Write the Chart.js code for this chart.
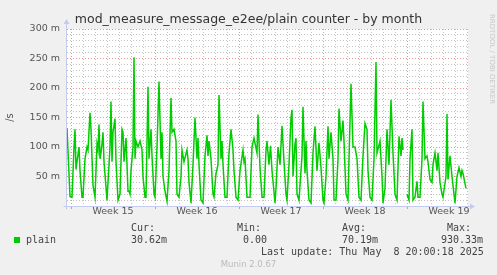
<!DOCTYPE html>
<html>
<head>
<meta charset="utf-8">
<script src="https://cdn.jsdelivr.net/npm/chart.js@4.4.0/dist/chart.umd.min.js"></script>
<style>
  body { margin: 0; background: #f0f0f0; }
  #wrap { position: relative; width: 497px; height: 275px; overflow: hidden; }
  canvas { position: absolute; left: 0; top: 0; }
  .t { position: absolute; white-space: pre; color: #444; }
  .mono { font-family: 'DejaVu Sans Mono', monospace; font-size: 10px; line-height: 12px; }
  #title { left: 0; width: 497px; top: 12px; text-align: center; font-family: 'DejaVu Sans', sans-serif; font-size: 12.5px; line-height: 14px; color: #333; }
  #rrd { left: 484px; top: 14px; transform-origin: 0 0; transform: translate(12px, 0) rotate(90deg); font-family: 'DejaVu Sans', sans-serif; font-size: 7px; line-height: 8px; color: #c8c8c8; }
  #munin { left: 0; width: 497px; top: 259px; text-align: center; font-family: 'DejaVu Sans', sans-serif; font-size: 8.5px; line-height: 10px; color: #bbb; }
  #swatch { position: absolute; left: 14px; top: 237px; width: 6px; height: 6px; background: #00cc00; }
</style>
</head>
<body>
<div id="wrap">
  <canvas id="c" width="497" height="275"></canvas>
  <div class="t" id="title">mod_measure_message_e2ee/plain counter - by month</div>
  <div class="t" id="rrd">RRDTOOL / TOBI OETIKER</div>
  <div id="swatch"></div>
  <div class="t mono" style="left:26px; top:234px">plain</div>
  <div class="t mono" style="left:131px; top:222px">Cur:</div>
  <div class="t mono" style="left:237px; top:222px">Min:</div>
  <div class="t mono" style="left:342px; top:222px">Avg:</div>
  <div class="t mono" style="left:447px; top:222px">Max:</div>
  <div class="t mono" style="left:131px; top:234px">30.62m</div>
  <div class="t mono" style="left:243px; top:234px">0.00</div>
  <div class="t mono" style="left:342px; top:234px">70.19m</div>
  <div class="t mono" style="left:441px; top:234px">930.33m</div>
  <div class="t mono" style="left:261px; top:246px">Last update: Thu May  8 20:00:18 2025</div>
  <div class="t" id="munin">Munin 2.0.67</div>
</div>
<script>
// hours since Mon 7 Apr 2025 00:00
const hours = [
  -8, -2, 2, 6, 8, 10, 12, 16, 18, 22, 24, 28,
  32, 34, 38, 40, 44, 48, 52, 54, 56, 58, 60, 62,
  64, 66, 72, 78, 80, 82, 84, 88, 90, 94, 98, 102,
  104, 106, 108, 110, 114, 116, 118, 120, 124, 126, 128, 130,
  134, 138, 142, 144, 148, 150, 154, 156, 160, 162, 166, 168,
  172, 176, 180, 182, 184, 188, 192, 196, 200, 202, 206, 210,
  212, 216, 220, 222, 226, 232, 234, 236, 240, 244, 248, 252,
  254, 256, 260, 264, 268, 272, 274, 276, 280, 284, 286, 290,
  294, 296, 300, 302, 304, 308, 312, 316, 320, 324, 326, 330,
  334, 338, 344, 346, 348, 352, 358, 362, 366, 372, 374, 378,
  382, 386, 390, 392, 396, 399, 402, 408, 410, 414, 418, 422,
  426, 430, 432, 436, 440, 442, 444, 448, 450, 452, 456, 462,
  464, 468, 470, 472, 476, 480, 484, 488, 492, 496, 500, 504,
  506, 510, 514, 516, 520, 524, 526, 530, 534, 536, 540, 544,
  546, 550, 554, 556, 560, 564, 568, 572, 576, 580, 584, 588,
  592, 594, 598, 602, 606, 610, 612, 618, 622, 624, 628, 632,
  636, 640, 644, 648, 652, 656, 660, 662, 664, 668, 672, 676,
  678, 682, 684, 688, 692, 694, 698, 702, 704, 708, 712, 714,
  718, 722, 724, 728, 732, 734, 738, 742, 744, 750, 752, 754,
  758, 762, 764, 768, 772, 776, 780, 782, 784, 790
];
// plain, in milli per second
const plain = [
  132, 16, 15, 100, 130, 62, 75, 100, 60, 15, 15, 80,
  100, 95, 158, 130, 35, 15, 105, 95, 138, 80, 90, 105,
  125, 75, 10, 100, 177, 75, 125, 148, 75, 10, 20, 130,
  125, 75, 95, 115, 25, 25, 20, 60, 100, 252, 80, 110,
  100, 110, 95, 50, 15, 15, 202, 80, 130, 85, 20, 15,
  100, 211, 80, 125, 50, 25, 8, 60, 183, 125, 130, 110,
  20, 15, 50, 95, 75, 95, 80, 40, 5, 70, 150, 80,
  115, 70, 10, 5, 85, 120, 85, 110, 80, 20, 15, 55,
  70, 188, 80, 110, 70, 15, 15, 90, 130, 95, 60, 15,
  10, 60, 95, 75, 80, 15, 15, 100, 115, 90, 155, 65,
  15, 15, 95, 110, 70, 102, 60, 5, 30, 100, 70, 136,
  75, 20, 10, 70, 150, 163, 50, 105, 115, 20, 10, 85,
  168, 55, 110, 60, 10, 5, 90, 135, 60, 107, 65, 10,
  5, 50, 135, 80, 125, 80, 10, 10, 80, 165, 110, 145,
  110, 20, 10, 80, 207, 100, 100, 80, 15, 10, 85, 140,
  130, 60, 15, 10, 80, 244, 90, 110, 50, 5, 30, 130,
  70, 180, 90, 20, 10, 118, 85, 115, 95, null, 20, 10,
  80, 130, 10, 15, 42, 15, 15, 80, 177, 80, 85, 75,
  45, 40, 70, 90, 60, 90, 40, 20, 15, 50, 156, 45,
  85, 50, 35, 5, 50, 65, 50, 60, 55, 30
];
const weekStarts = [0, 168, 336, 504, 672];
const weekLabels = ['Week 15', 'Week 16', 'Week 17', 'Week 18', 'Week 19'];
const yLabels = [50, 100, 150, 200, 250, 300];

const red = 'rgba(222, 130, 130, 0.85)';
const grey = 'rgba(185, 185, 185, 0.85)';
const axisColor = '#c4cbee';

const plotBg = {
  id: 'plotBg',
  beforeDraw(chart) {
    const a = chart.chartArea, c = chart.ctx;
    c.save();
    c.fillStyle = '#ffffff';
    c.fillRect(a.left, a.top, a.right - a.left, a.bottom - a.top);
    c.restore();
  },
  afterDraw(chart) {
    const a = chart.chartArea, c = chart.ctx;
    const x0 = Math.round(a.left) - 0.5, y0 = Math.round(a.bottom) + 0.5;
    c.save();
    c.strokeStyle = axisColor;
    c.fillStyle = axisColor;
    c.lineWidth = 1;
    c.beginPath();
    c.moveTo(x0, y0 + 3); c.lineTo(x0, a.top - 6);
    c.moveTo(x0 - 3, y0); c.lineTo(a.right + 3, y0);
    c.stroke();
    c.beginPath();
    c.moveTo(x0 - 3, a.top - 5); c.lineTo(x0 + 3, a.top - 5); c.lineTo(x0, a.top - 10); c.closePath();
    c.moveTo(a.right + 2, y0 - 3); c.lineTo(a.right + 2, y0 + 3); c.lineTo(a.right + 7, y0); c.closePath();
    c.fill();
    c.restore();
  }
};

new Chart(document.getElementById('c'), {
  type: 'line',
  data: {
    datasets: [{
      label: 'plain',
      data: hours.map((h, i) => ({ x: h, y: plain[i] })),
      borderColor: '#00cc00',
      borderWidth: 1.5,
      pointRadius: 0,
      tension: 0,
      spanGaps: false
    }]
  },
  options: {
    responsive: false,
    devicePixelRatio: 1,
    animation: false,
    layout: { padding: { top: 29, right: 29, left: 0, bottom: 0 } },
    plugins: { legend: { display: false }, tooltip: { enabled: false }, title: { display: false } },
    scales: {
      x: {
        type: 'linear',
        min: -8,
        max: 794,
        afterFit: s => { s.height = 69; },
        afterBuildTicks: s => {
          const t = [];
          for (let h = 0; h <= 792; h += 24) t.push({ value: h });
          weekStarts.forEach(w => t.push({ value: w + 84 }));
          t.sort((a, b) => a.value - b.value);
          s.ticks = t;
        },
        grid: {
          color: c => c.tick.value % 168 === 0 ? red : (c.tick.value % 24 === 0 ? grey : 'rgba(0,0,0,0)'),
          tickColor: c => c.tick.value % 168 === 0 ? red : 'rgba(0,0,0,0)',
          tickLength: 3,
          drawTicks: true
        },
        border: { display: false, dash: [1, 2] },
        ticks: {
          autoSkip: false,
          maxRotation: 0,
          padding: -3,
          color: '#555',
          font: { family: 'DejaVu Sans', size: 9.5 },
          callback: v => {
            const i = weekStarts.indexOf(v - 84);
            return i >= 0 ? weekLabels[i] : '';
          }
        }
      },
      y: {
        min: 0,
        max: 300,
        afterFit: s => { s.width = 67; },
        grid: {
          color: c => c.tick.value === 0 ? 'rgba(0,0,0,0)' : (c.tick.value % 50 === 0 ? red : grey),
          drawTicks: false
        },
        border: { display: false, dash: [1, 2] },
        title: { display: true, text: '/s', color: '#555', font: { family: 'DejaVu Sans', size: 10 }, padding: { top: 4, bottom: 0 } },
        ticks: {
          stepSize: 10,
          autoSkip: false,
          padding: 7,
          color: '#555',
          font: { family: 'DejaVu Sans', size: 9.5 },
          callback: v => yLabels.includes(v) ? v + ' m' : ''
        }
      }
    }
  },
  plugins: [plotBg]
});
</script>
</body>
</html>
